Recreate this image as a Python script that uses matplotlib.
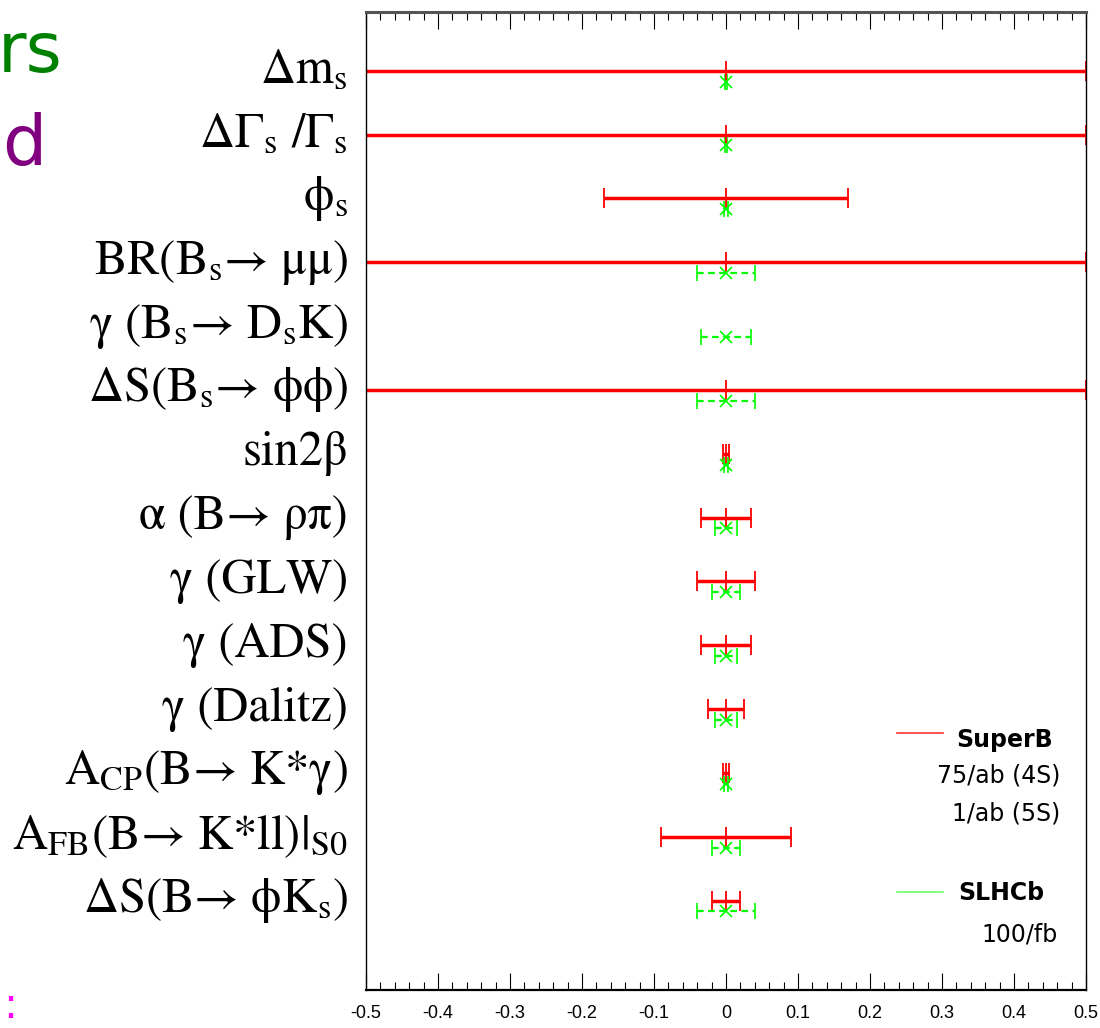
import numpy as np
import matplotlib.pyplot as plt
from matplotlib import font_manager
from matplotlib.ticker import MultipleLocator

plt.rcParams['mathtext.fontset'] = 'stix'

# observables (top to bottom)
labels = ['Δm$_{\\mathrm{s}}$',
          'ΔΓ$_{\\mathrm{s}}$ /Γ$_{\\mathrm{s}}$',
          'ϕ$_{\\mathrm{s}}$',
          'BR(B$_{\\mathrm{s}}$→ μμ)',
          'γ (B$_{\\mathrm{s}}$→ D$_{\\mathrm{s}}$K)',
          'ΔS(B$_{\\mathrm{s}}$→ ϕϕ)',
          'sin2β',
          'α (B→ ρπ)',
          'γ (GLW)',
          'γ (ADS)',
          'γ (Dalitz)',
          'A$_{\\mathrm{CP}}$(B→ K*γ)',
          'A$_{\\mathrm{FB}}$(B→ K*ll)|$_{\\mathrm{S0}}$',
          'ΔS(B→ ϕK$_{\\mathrm{s}}$)']

# expected errors (half widths), None = no measurement
superb_err = [0.5, 0.5, 0.17, 0.5, None, 0.5, 0.0045, 0.035, 0.040, 0.035, 0.025, 0.004, 0.09, 0.02]
slhcb_err = [0.002, 0.002, 0.003, 0.04, 0.035, 0.04, 0.003, 0.015, 0.02, 0.015, 0.015, 0.003, 0.02, 0.04]

xticks = [-0.5, -0.4, -0.3, -0.2, -0.1, 0, 0.1, 0.2, 0.3, 0.4, 0.5]
xticklabels = ['-0.5', '-0.4', '-0.3', '-0.2', '-0.1', '0', '0.1', '0.2', '0.3', '0.4', '0.5']

# narrow font for the tick labels if there is one
tick_font = 'DejaVu Sans'
for name in ['Liberation Sans Narrow', 'Liberation Sans']:
    try:
        font_manager.findfont(name, fallback_to_default=False)
        tick_font = name
        break
    except Exception:
        pass

fig = plt.figure(figsize=(11, 10.28), dpi=100)
ax = fig.add_axes([366/1100, 38/1028, 720/1100, 978/1028])

rows = np.arange(len(labels))
red = '#ff0000'
green = '#00ff00'

for i, e in enumerate(superb_err):
    if e is None:
        continue
    ax.errorbar([0], [rows[i]], xerr=[e], color=red, lw=2.5, capsize=7, capthick=1.5,
                marker='|', ms=14, mew=1.3)

for i, e in enumerate(slhcb_err):
    eb = ax.errorbar([0], [rows[i] + 0.17], xerr=[e], color=green, lw=1.6, capsize=6,
                     capthick=1.2, marker='x', ms=8, mew=1.2)
    eb[2][0].set_linestyle((0, (3, 2)))

ax.set_xlim(-0.5, 0.5)
ax.set_ylim(14.4, -0.92)
ax.set_yticks([])
ax.xaxis.set_minor_locator(MultipleLocator(0.02))
ax.tick_params(axis='x', which='both', direction='in', top=True, bottom=True)
ax.tick_params(axis='x', which='major', length=12, width=0.8, pad=11)
ax.tick_params(axis='x', which='minor', length=6, width=0.8)
ax.set_xticks(xticks)
ax.set_xticklabels(xticklabels, fontsize=13, family=tick_font)
for s in ax.spines.values():
    s.set_linewidth(1.0)
ax.spines['top'].set_linewidth(2.2)
ax.spines['top'].set_color('#555555')
ax.spines['bottom'].set_linewidth(1.6)

# row labels
for i, lab in enumerate(labels):
    ax.text(-0.525, rows[i], lab, ha='right', va='center', fontsize=35,
            family=['STIXGeneral', 'DejaVu Serif'], transform=ax.transData, clip_on=False)

# legend
def px(x, y):
    return x / 1100, 1 - y / 1028

fig.add_artist(plt.Line2D([897/1100, 943/1100], [1 - 733/1028] * 2, color='#ff3333', lw=1.2))
fig.add_artist(plt.Line2D([897/1100, 943/1100], [1 - 892/1028] * 2, color='#66ff66', lw=1.2))
fig.text(*px(956, 740), 'SuperB', fontsize=17, fontweight='bold', va='center', ha='left')
fig.text(*px(1060, 776), '75/ab (4S)', fontsize=17, va='center', ha='right')
fig.text(*px(1060, 813), '1/ab (5S)', fontsize=17, va='center', ha='right')
fig.text(*px(958, 893), 'SLHCb', fontsize=17, fontweight='bold', va='center', ha='left')
fig.text(*px(1058, 934), '100/fb', fontsize=17, va='center', ha='right')

# cropped slide text on the left
fig.text(*px(-2, 72), 'rs', fontsize=50, color='#008000', va='baseline', ha='left')
fig.text(*px(2, 165), 'd', fontsize=50, color='#800080', va='baseline', ha='left')
fig.text(*px(3, 1018), ':', fontsize=30, color='#ff00ff', va='baseline', ha='left')

fig.savefig('out.png', dpi=100)
